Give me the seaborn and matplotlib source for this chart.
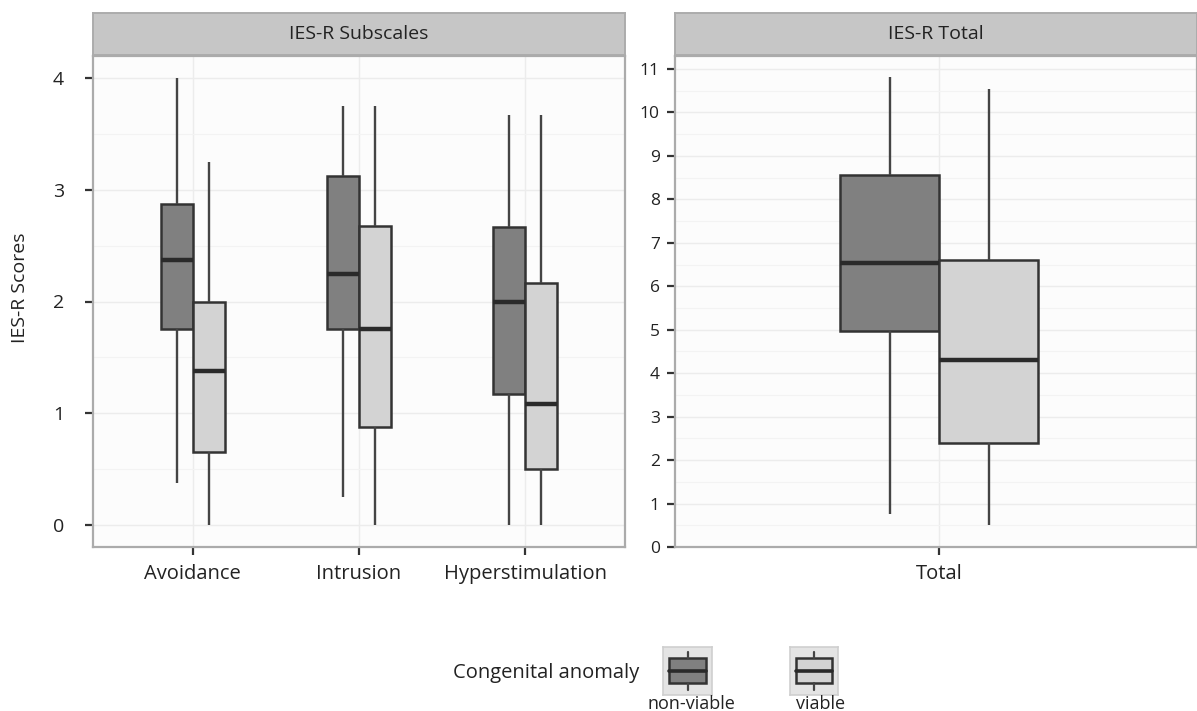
import numpy as np
import pandas as pd
import matplotlib
matplotlib.use("Agg")
import matplotlib.pyplot as plt
from matplotlib.patches import Rectangle
from matplotlib.lines import Line2D
import seaborn as sns

# ---------------- data (five-number summaries) ----------------
subscales = ["Avoidance", "Intrusion", "Hyperstimulation"]
groups = ["non-viable", "viable"]
# each list: [min, Q1, median, Q3, max]
avoidance_nonviable = [0.375, 1.75, 2.375, 2.875, 4.0]
avoidance_viable = [0.0, 0.65, 1.375, 2.0, 3.25]
intrusion_nonviable = [0.25, 1.75, 2.25, 3.125, 3.75]
intrusion_viable = [0.0, 0.875, 1.75, 2.68, 3.75]
hyper_nonviable = [0.0, 1.167, 2.0, 2.667, 3.667]
hyper_viable = [0.0, 0.5, 1.083, 2.167, 3.667]
total_label = ["Total"]
total_nonviable = [0.77, 4.96, 6.54, 8.57, 10.82]
total_viable = [0.51, 2.39, 4.31, 6.61, 10.53]
y_ticks_sub = [0, 1, 2, 3, 4]
y_ticks_total = list(range(0, 12))

palette = {"non-viable": "#808080", "viable": "#d3d3d3"}

sub_values = {
    ("Avoidance", "non-viable"): avoidance_nonviable,
    ("Avoidance", "viable"): avoidance_viable,
    ("Intrusion", "non-viable"): intrusion_nonviable,
    ("Intrusion", "viable"): intrusion_viable,
    ("Hyperstimulation", "non-viable"): hyper_nonviable,
    ("Hyperstimulation", "viable"): hyper_viable,
}
rows = []
for (sc, g), vals in sub_values.items():
    for v in vals:
        rows.append((sc, g, v))
df_sub = pd.DataFrame(rows, columns=["Scale", "Group", "Score"])

rows = []
for g, vals in zip(groups, [total_nonviable, total_viable]):
    for v in vals:
        rows.append((total_label[0], g, v))
df_tot = pd.DataFrame(rows, columns=["Scale", "Group", "Score"])

# ---------------- style ----------------
sns.set_theme(style="white")
plt.rcParams["font.family"] = ["Open Sans", "DejaVu Sans"]

W, H = 1197, 711
fig = plt.figure(figsize=(W / 100, H / 100), dpi=100)
fig.patch.set_facecolor("white")


def rect(x0, y0, x1, y1):
    return [x0 / W, 1 - y1 / H, (x1 - x0) / W, (y1 - y0) / H]


ax1 = fig.add_axes(rect(93, 56, 625, 547))
ax2 = fig.add_axes(rect(675, 56, 1197, 547))
sax1 = fig.add_axes(rect(93, 13, 625, 55))
sax2 = fig.add_axes(rect(675, 13, 1197, 55))

box_kw = dict(
    x="Scale", y="Score", hue="Group", hue_order=groups, palette=palette,
    whis=(0, 100), gap=0, linewidth=1.8, linecolor="#333333",
    showcaps=False, fliersize=0, legend=False,
    medianprops={"linewidth": 3.2, "color": "#2a2a2a"},
    whiskerprops={"linewidth": 1.7, "color": "#444444"},
)

sns.boxplot(data=df_sub, order=subscales, width=0.385, ax=ax1, **box_kw)
sns.boxplot(data=df_tot, order=total_label, width=0.45, ax=ax2, **box_kw)

for ax, yt, ylim, xlim, ysize, ypad in [
    (ax1, y_ticks_sub, (-0.2, 4.2), (-0.6, 2.6), 14, 15),
    (ax2, y_ticks_total, (0, 11.3), (-0.6, 0.585), 12.5, 5),
]:
    ax.set_facecolor("#fcfcfc")
    ax.set_yticks(yt)
    ax.set_yticks([t + 0.5 for t in yt], minor=True)
    ax.set_ylim(*ylim)
    ax.set_xlim(*xlim)
    ax.set_xlabel("")
    ax.set_ylabel("")
    ax.grid(True, which="major", color="#ececec", linewidth=1.0)
    ax.grid(True, which="minor", axis="y", color="#f3f3f3", linewidth=0.8)
    ax.set_axisbelow(True)
    for s in ax.spines.values():
        s.set_color("#ababab")
        s.set_linewidth(1.6)
    ax.tick_params(axis="both", which="major", direction="out", length=6,
                   width=1.6, color="#333333", left=True, bottom=True)
    ax.tick_params(axis="both", which="minor", length=0)
    ax.tick_params(axis="y", labelsize=ysize, labelcolor="#222222", pad=ypad)
    ax.tick_params(axis="x", labelsize=14.5, labelcolor="#222222", pad=6)

ax1.set_ylabel("IES-R Scores", fontsize=14, color="#222222")
ax1.yaxis.set_label_coords(-0.12, 0.528)

for sax, title in [(sax1, "IES-R Subscales"), (sax2, "IES-R Total")]:
    sax.set_facecolor("#c6c6c6")
    sax.set_xticks([])
    sax.set_yticks([])
    for s in sax.spines.values():
        s.set_color("#acacac")
        s.set_linewidth(1.4)
    sax.text(0.5, 0.5, title, transform=sax.transAxes, ha="center",
             va="center", fontsize=14, color="#222222")

# ---------------- legend ----------------
fig.text(453 / W, 1 - 673 / H, "Congenital anomaly", ha="left", va="center",
         fontsize=14.5, color="#222222")
for g, (x0, x1), lx in [("non-viable", (663, 712), 691), ("viable", (790, 838), 821)]:
    kax = fig.add_axes(rect(x0, 647, x1, 695))
    kax.set_facecolor("#e4e4e4")
    kax.set_xlim(0, 1)
    kax.set_ylim(0, 1)
    kax.set_xticks([])
    kax.set_yticks([])
    for s in kax.spines.values():
        s.set_color("#cfcfcf")
        s.set_linewidth(1.2)
    kax.add_patch(Rectangle((0.12, 0.25), 0.76, 0.52, facecolor=palette[g],
                            edgecolor="#333333", linewidth=1.8))
    kax.add_line(Line2D([0.12, 0.88], [0.51, 0.51], color="#2a2a2a", linewidth=2.6))
    kax.add_line(Line2D([0.5, 0.5], [0.77, 0.9], color="#444444", linewidth=1.6))
    kax.add_line(Line2D([0.5, 0.5], [0.1, 0.25], color="#444444", linewidth=1.6))
    fig.text(lx / W, 1 - 704 / H, g, ha="center", va="center", fontsize=13,
             color="#222222")

fig.savefig("out.png", dpi=100, facecolor="white")
